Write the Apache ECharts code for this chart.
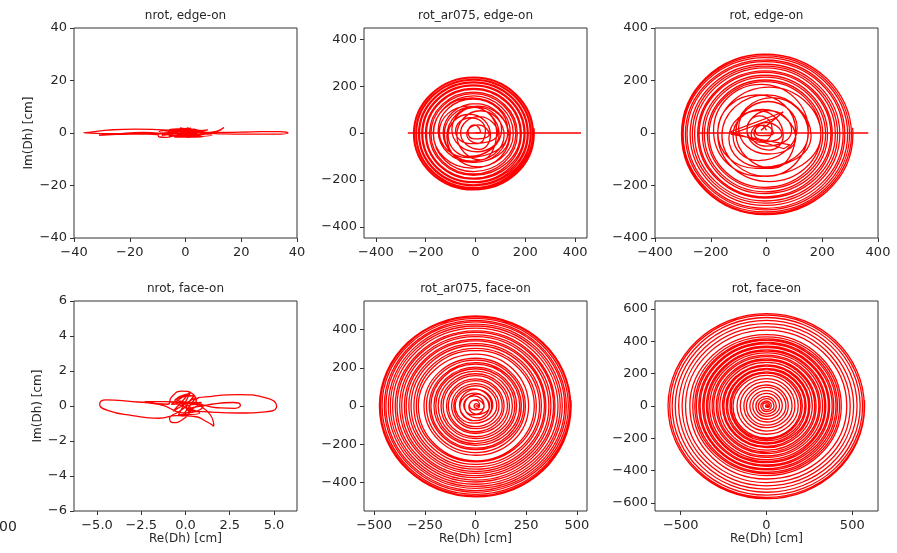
<!DOCTYPE html>
<html><head><meta charset="utf-8">
<script src="https://cdn.jsdelivr.net/npm/echarts@6/dist/echarts.min.js"></script>
<style>html,body{margin:0;padding:0;background:#fff}#c{width:897px;height:553px}</style>
</head><body><div id="c"></div>
<script>
// ---------------- data (Re(Dh), Im(Dh)) in cm ----------------
const titles = ['nrot, edge-on','rot_ar075, edge-on','rot, edge-on','nrot, face-on','rot_ar075, face-on','rot, face-on'];

const ticksNrotEdge = [-40,-20,0,20,40];
const ticksAr075Edge = [-400,-200,0,200,400];
const ticksRotEdge = [-400,-200,0,200,400];
const ticksNrotFaceX = [-5,-2.5,0,2.5,5];
const ticksNrotFaceY = [-6,-4,-2,0,2,4,6];
const ticksAr075FaceX = [-500,-250,0,250,500];
const ticksAr075FaceY = [-400,-200,0,200,400];
const ticksRotFaceX = [-500,0,500];
const ticksRotFaceY = [-600,-400,-200,0,200,400,600];

const nrotEdgeOn = [
[0,0],[1.5,0.9],[-2,0.6],[3,-0.8],[-3.5,-1.1],[4.5,0.4],[-5,1.2],[5.5,-1.3],[-6,-0.4],[2,1.8],[-1,1.5],[7,0.8],[-7.5,0.3],[6,-1.5],[-4,-1.6],[8,1.2],[-8.5,-0.9],[1,2.0],[0.5,-1.7],[9.5,-0.8],[-9.5,0.6],[3.5,1.4],[-2.5,-1.4],[11,0.6],[13.8,2.1],[10,0.2],[4,-0.5],[-2,0.8],[-3,-0.6],[2.5,0.5],
[12,-0.3],[22,-0.45],[32,-0.45],[36.8,0],[34,0.55],[24,0.45],[14,0.25],[5,0.3],[-1,-0.2],[-6,0.9],[-3,1.6],[2,0.3],
[-10,-0.3],[-20,-0.4],[-28,-0.7],[-31,-0.85],[-25,-0.3],[-15,0.2],[-5,-0.4],[1,0.7],
[-6,1.1],[-18,1.45],[-28,1.1],[-34,0.3],[-36.5,0.05],[-30,-0.2],[-20,-0.3],[-10,-0.6],[-9.5,-1.5],[-7,-1.7],[-3,-0.9],[0,-1.5],[4,-1.2],[6,0.9],[1,0.4],[-2,1.9],[3,1.0],
[-4,1.3],[5,-0.9],[-6,-1.2],[2,1.5],[7,-0.4],[-1,-1.0],[0,0.2]
];

const ar075EdgeBounce = [[0,0],[424,0],[-272,0],[0,0]];
const ar075EdgeOn = [
[0,0],[20,5],[-5,35],[-30,5],[-5,-25],
[55,-5],[10,35],[-35,-5],[10,-45],
[40,10],[-20,65],[-80,10],[-20,-45],
[90,0],[15,70],[-60,0],[15,-70],
[60,-10],[-25,80],[-110,-10],[-25,-100],
[105,15],[5,110],[-95,15],[5,-80],
[95,-5],[-15,110],[-125,-5],[-15,-120],
[115,-10],[20,95],[-75,-10],[20,-115],
[85,5],[-30,115],[-145,5],[-30,-105],
[130,0],[0,125],[-130,0],[0,-125],
[130,10],[-10,145],[-150,10],[-10,-125],
[135,-15],[10,115],[-115,-15],[10,-145],
[140,0],[-15,150],[-170,0],[-15,-150],
[152,-3],[-8,158],[-169,-3],[-8,-165],
[162,-3],[-8,168],[-179,-3],[-8,-175],
[168,-3],[-8,174],[-185,-3],[-8,-181],
[180,-3],[-8,186],[-197,-3],[-8,-193],
[184,-3],[-8,190],[-201,-3],[-8,-197],
[195,-3],[-8,201],[-212,-3],[-8,-208],
[199,-3],[-8,205],[-216,-3],[-8,-212],
[208,-3],[-8,214],[-225,-3],[-8,-221],
[212,-3],[-8,218],[-229,-3],[-8,-225],
[220,-3],[-8,226],[-237,-3],[-8,-233],
[223,-3],[-8,229],[-240,-3],[-8,-236],
[229,-3],[-8,235],[-246,-3],[-8,-241],
[233,-3],[-8,238],[-249,-3],[-8,-243],
[236,-3],[235,20]
];

const rotEdgeBounce = [[0,0],[365,0],[-248,0],[0,0]];
const rotEdgeStar = [[-20,10],[60,80],[-130,4],[62,-60],[85,-45],[-128,-4],[40,60]];
const rotEdgeOn = [
[0,10],[-20,30],[-40,10],[-20,-10],
[25,0],[-10,30],[-45,0],[-10,-30],
[20,15],[-25,65],[-70,15],[-25,-35],
[55,-5],[0,40],[-55,-5],[0,-50],
[90,10],[10,85],[-70,10],[10,-65],
[60,-10],[-30,85],[-120,-10],[-30,-105],
[110,20],[5,120],[-100,20],[5,-80],
[105,-20],[-15,90],[-135,-20],[-15,-130],
[150,0],[20,135],[-110,0],[20,-135],
[105,5],[-35,145],[-175,5],[-35,-135],
[160,-10],[0,145],[-160,-10],[0,-165],
[150,10],[-20,185],[-190,10],[-20,-165],
[195,-5],[10,175],[-175,-5],[10,-185],
[195,-5],[-5,196],[-206,-5],[-5,-207],
[202,-5],[-5,202],[-212,-5],[-5,-213],
[212,-5],[-5,213],[-223,-5],[-5,-224],
[219,-5],[-5,220],[-230,-5],[-5,-231],
[231,-5],[-5,231],[-242,-5],[-5,-243],
[236,-5],[-5,237],[-247,-5],[-5,-248],
[247,-5],[-5,248],[-258,-5],[-5,-259],
[255,-5],[-5,255],[-266,-5],[-5,-267],
[263,-5],[-5,262],[-274,-5],[-5,-276],
[275,-5],[-5,272],[-285,-5],[-5,-287],
[281,-5],[-5,278],[-291,-5],[-5,-293],
[291,-5],[-5,287],[-299,-5],[-5,-301],
[298,-5],[-5,294],[-303,-5],[-5,-307],
[305,-5],[-5,300],[-305,-5],[-5,-311],
[310,-5],[309,20]
];

const nrotFaceOn = [
[0,0],[0.5,0.6],[-0.6,0.3],[0.8,-0.4],[-0.4,-0.5],[0.3,0.8],[-0.8,0.1],[0.9,0.2],[-0.2,-0.6],[0.6,0.5],[-0.7,-0.3],[0.2,0.7],[-0.5,0.4],[1,0],[0,-0.4],
[-1.5,0.1],[-3,0.25],[-4.5,0.35],[-4.85,0.1],[-4.4,-0.25],[-3,-0.55],[-1.5,-0.7],[-0.5,-0.55],
[0.5,-0.6],[1.2,-0.9],[1.6,-1.15],[1.4,-0.5],[0.6,0.3],
[1.5,0.55],[3,0.65],[4.6,0.45],[5.15,0],[4.8,-0.3],[3,-0.4],[1.5,-0.35],[0.2,-0.2],
[1.5,0.1],[2.7,0.2],[3.1,0.05],[2.8,-0.13],[1.8,-0.1],[0.6,0.1],
[-0.5,-0.4],[-0.9,-0.7],[-0.7,-0.95],[-0.2,-0.8],[0.3,-0.2],
[-1.2,0.25],[-2.3,0.25],[-1,0.1],
[-0.8,0.5],[-0.2,0.85],[0.4,0.7],[0.6,0.2],[-0.3,0.2],[0.2,-0.3],[0,0]
];

const ar075FaceOn = [
[0,0],[17,0],[5,12],[-7,0],[5,-12],
[20,5],[-5,30],[-30,5],[-5,-20],
[43,-5],[5,33],[-33,-5],[5,-43],
[42,3],[-8,53],[-58,3],[-8,-47],
[70,0],[8,62],[-54,0],[8,-62],
[67,-5],[-5,67],[-77,-5],[-5,-77],
[85,5],[3,87],[-79,5],[3,-77],
[80,0],[-10,90],[-100,0],[-10,-90],
[105,1],[1,106],[-107,0],[-1,-108],
[116,0],[0,117],[-118,1],[1,-119],
[132,-1],[1,133],[-134,0],[0,-135],
[141,0],[0,142],[-143,1],[-1,-144],
[158,1],[1,159],[-160,0],[0,-161],
[168,0],[0,169],[-170,-1],[1,-171],
[182,-1],[1,183],[-184,0],[0,-185],
[194,0],[0,195],[-196,1],[-1,-197],
[203,1],[1,204],[-205,0],[0,-206],
[218,0],[0,219],[-220,-1],[1,-221],
[226,-1],[1,227],[-228,0],[0,-229],
[238,0],[0,240],[-242,1],[-1,-244],
[246,0],[0,250],[-254,1],[1,-258],
[262,0],[1,272],[-282,0],[0,-287],
[290,1],[0,291],[-292,0],[1,-293],
[300,0],[1,302],[-304,-1],[0,-306],
[316,-1],[0,317],[-318,0],[-1,-319],
[325,0],[1,327],[-329,1],[0,-331],
[340,1],[0,341],[-342,0],[1,-343],
[347,0],[1,349],[-351,-1],[0,-353],
[362,-1],[0,363],[-364,0],[-1,-365],
[372,0],[1,373],[-374,1],[0,-375],
[385,1],[0,386],[-387,0],[1,-388],
[392,0],[1,394],[-396,-1],[0,-398],
[407,-1],[0,408],[-409,0],[-1,-410],
[418,0],[1,419],[-420,1],[0,-421],
[428,1],[0,429],[-430,0],[1,-431],
[440,0],[1,441],[-442,-1],[0,-443],
[448,-1],[0,449],[-450,0],[-1,-452],
[458,0],[1,459],[-461,1],[0,-463],
[466,1],[0,467],[-469,0],[1,-471],
[470,0],[1,472],[-474,0],[0,-476],
[472,0],[471,30]
];

const rotFaceOn = [
[0,0],[12,0],[3,9],[-6,0],[3,-9],
[18,0],[0,20],[-22,1],[0,-24],
[28,1],[0,31],[-33,0],[1,-35],
[44,0],[1,46],[-48,-1],[0,-50],
[57,-1],[0,60],[-62,0],[-1,-64],
[76,0],[1,78],[-80,1],[0,-82],
[92,1],[0,95],[-97,0],[1,-99],
[113,0],[1,115],[-117,-1],[0,-119],
[127,-1],[0,130],[-132,0],[-1,-134],
[149,0],[1,151],[-153,1],[0,-155],
[166,1],[0,169],[-172,0],[1,-175],
[185,0],[1,190],[-195,-1],[0,-198],
[200,-1],[0,203],[-205,0],[-1,-206],
[209,0],[1,211],[-213,1],[0,-215],
[224,1],[0,225],[-227,0],[1,-228],
[231,0],[1,233],[-235,-1],[0,-236],
[246,-1],[0,247],[-249,0],[-1,-250],
[253,0],[1,255],[-257,1],[0,-258],
[267,1],[0,270],[-272,0],[1,-273],
[281,0],[1,282],[-284,-1],[0,-285],
[289,-1],[0,291],[-293,0],[-1,-294],
[305,0],[1,306],[-308,1],[0,-309],
[313,1],[0,315],[-317,0],[1,-318],
[327,0],[1,329],[-331,-1],[0,-332],
[339,-1],[0,340],[-342,0],[-1,-343],
[346,0],[1,348],[-350,1],[0,-351],
[361,1],[0,362],[-364,0],[1,-365],
[368,0],[1,370],[-372,-1],[0,-373],
[383,-1],[0,385],[-387,0],[-1,-388],
[392,0],[1,393],[-395,1],[0,-396],
[405,1],[0,407],[-409,0],[1,-410],
[414,0],[1,416],[-418,-1],[0,-419],
[426,-1],[0,428],[-430,0],[-1,-431],
[436,0],[0,442],[-447,0],[-1,-452],
[468,0],[1,470],[-472,-1],[0,-474],
[488,-1],[0,490],[-492,0],[-1,-494],
[508,0],[1,510],[-512,1],[0,-514],
[528,1],[0,530],[-532,0],[1,-534],
[546,0],[1,548],[-550,-1],[0,-552],
[560,-1],[0,562],[-564,0],[-1,-566],
[570,0],[1,572],[-574,0],[0,-574],
[572,0],[571,35]
];

// ---------------- layout / styling ----------------
const FONT = 'DejaVu Sans';
const TXT = '#262626';
const EDGE = '#333333';
const RED = '#ff0000';
const panels = [
  {left:74, top:28, x:[-40,40], xt:ticksNrotEdge, y:[-40,40], yt:ticksNrotEdge, yName:39, xName:null, lines:[nrotEdgeOn], straight:[]},
  {left:364, top:28, x:[-448,448], xt:ticksAr075Edge, y:[-448,448], yt:ticksAr075Edge, yName:null, xName:null, lines:[ar075EdgeOn], straight:[ar075EdgeBounce]},
  {left:655, top:28, x:[-400,400], xt:ticksRotEdge, y:[-400,400], yt:ticksRotEdge, yName:null, xName:null, lines:[rotEdgeOn], straight:[rotEdgeBounce, rotEdgeStar]},
  {left:74, top:301, x:[-6.3,6.3], xt:ticksNrotFaceX, y:[-6,6], yt:ticksNrotFaceY, yName:30, xName:16, lines:[nrotFaceOn], straight:[], fixed:1},
  {left:364, top:301, x:[-550,550], xt:ticksAr075FaceX, y:[-550,550], yt:ticksAr075FaceY, yName:null, xName:16, lines:[ar075FaceOn], straight:[]},
  {left:655, top:301, x:[-650,650], xt:ticksRotFaceX, y:[-650,650], yt:ticksRotFaceY, yName:null, xName:16, lines:[rotFaceOn], straight:[]}
];
const W = 223, H = 210;
const minus = s => String(s).replace('-', '\u2212');

const grid = [], xAxis = [], yAxis = [], series = [], title = [];
panels.forEach((p, i) => {
  grid.push({left:p.left, top:p.top, width:W, height:H, show:true, borderColor:EDGE, borderWidth:1, backgroundColor:'#fff', containLabel:false, outerBoundsMode:'none'});
  const tick = vals => ({show:true, inside:false, length:4, lineStyle:{color:EDGE, width:1}, customValues:vals});
  xAxis.push({
    type:'value', gridIndex:i, min:p.x[0], max:p.x[1], position:'bottom',
    axisLine:{show:false, onZero:false}, splitLine:{show:false},
    axisTick:tick(p.xt),
    axisLabel:{customValues:p.xt, margin:8, color:TXT, fontSize:13, fontFamily:FONT,
      formatter: v => p.fixed ? minus(v.toFixed(1)) : minus(v)},
    name: p.xName ? 'Re(Dh) [cm]' : '', nameLocation:'middle', nameGap:p.xName || 0,
    nameTextStyle:{color:TXT, fontSize:12, fontFamily:FONT}
  });
  yAxis.push({
    type:'value', gridIndex:i, min:p.y[0], max:p.y[1], position:'left',
    axisLine:{show:false, onZero:false}, splitLine:{show:false},
    axisTick:tick(p.yt),
    axisLabel:{customValues:p.yt, margin:7, color:TXT, fontSize:13, fontFamily:FONT, formatter: v => minus(v)},
    name: p.yName ? 'Im(Dh) [cm]' : '', nameLocation:'middle', nameGap:p.yName || 0, nameRotate:90,
    nameTextStyle:{color:TXT, fontSize:12, fontFamily:FONT}
  });
  title.push({text:titles[i], left:p.left + W/2, top:p.top - 18, textAlign:'center', padding:0,
    textStyle:{fontSize:12, fontWeight:'normal', color:TXT, fontFamily:FONT}});
  p.straight.forEach(d => series.push({type:'line', xAxisIndex:i, yAxisIndex:i, data:d, symbol:'none', smooth:false,
    lineStyle:{color:RED, width:1.3}, silent:true, clip:true}));
  p.lines.forEach(d => series.push({type:'line', xAxisIndex:i, yAxisIndex:i, data:d, symbol:'none', smooth:0.55,
    lineStyle:{color:RED, width:1.3}, silent:true, clip:true}));
});

const chart = echarts.init(document.getElementById('c'), null, {renderer:'canvas'});
chart.setOption({
  animation:false, backgroundColor:'#fff',
  title, grid, xAxis, yAxis, series,
  graphic:[{type:'text', left:-1, top:520, silent:true, style:{text:'00', fontSize:14, fill:TXT, fontFamily:FONT}}]
});
</script></body></html>
